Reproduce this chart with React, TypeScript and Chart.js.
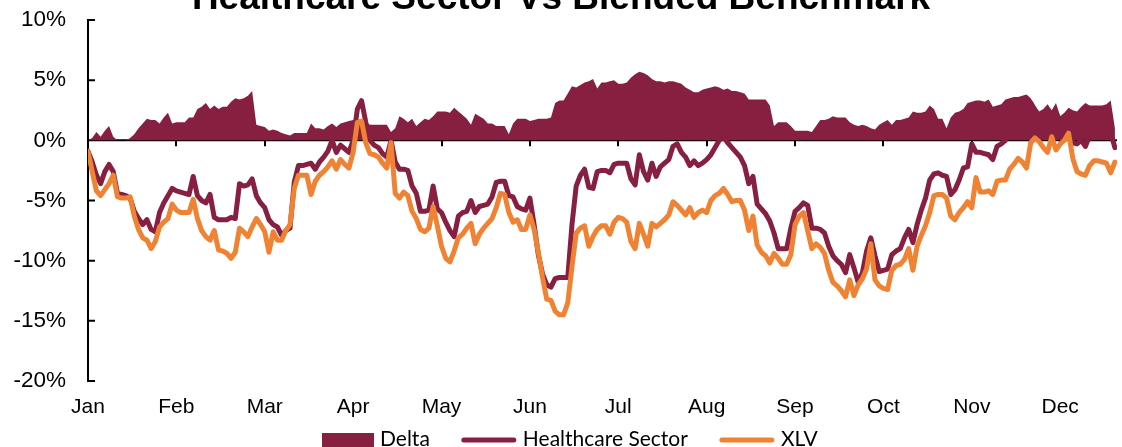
import React, { useEffect, useRef } from 'react';
import { Chart, registerables } from 'chart.js';

Chart.register(...registerables);

const chartTitle = 'Healthcare Sector Vs Blended Benchmark';
const monthLabels = ['Jan', 'Feb', 'Mar', 'Apr', 'May', 'Jun', 'Jul', 'Aug', 'Sep', 'Oct', 'Nov', 'Dec'];
const tradingDaysPerMonth = 21;
const yTickValues = [-20, -15, -10, -5, 0, 5, 10];

// Cumulative return (%), one row per month of trading days
const healthcareSector = [
  -0.9, -1.8, -2.9, -3.6, -2.6, -2.0, -2.6, -4.4, -4.5, -4.6, -4.8, -5.9, -6.5, -7.0, -6.6, -7.4, -7.6, -6.0, -5.2, -4.6, -4.0,
  -4.2, -4.3, -4.4, -4.5, -3.0, -4.6, -5.0, -5.2, -4.5, -6.4, -6.6, -6.6, -6.6, -6.4, -6.5, -3.6, -3.8, -3.7, -3.2, -4.6, -5.2,
  -5.6, -6.6, -7.0, -7.2, -7.9, -7.5, -7.3, -3.5, -2.1, -2.1, -2.0, -1.9, -2.4, -1.8, -1.4, -0.9, 0.0, -1.0, -0.4, -0.7, -1.0,
  0.0, 2.6, 3.3, 1.5, 0.0, -0.4, -0.6, -1.1, -1.4, 0.0, -1.8, -2.4, -2.4, -2.5, -3.8, -4.4, -5.9, -5.9, -5.8, -3.8, -5.7,
  -6.0, -6.8, -7.5, -8.0, -6.3, -6.0, -5.9, -5.0, -6.0, -5.5, -5.4, -5.3, -4.7, -3.5, -3.4, -3.4, -4.6, -4.7, -5.5, -5.7, -5.8,
  -4.8, -7.0, -9.5, -11.1, -12.0, -12.2, -11.5, -11.4, -11.4, -11.4, -7.0, -3.8, -2.9, -2.4, -3.9, -4.0, -2.6, -2.5, -2.5, -2.7, -2.0,
  -1.9, -1.9, -1.9, -3.2, -3.7, -1.2, -2.6, -3.3, -1.9, -3.0, -2.2, -1.9, -1.6, -0.5, -0.3, -1.0, -1.4, -2.1, -1.7, -2.1, -1.9,
  -1.6, -1.2, -0.6, 0.0, 0.3, -0.2, -0.6, -1.0, -1.4, -2.1, -3.6, -3.0, -5.3, -5.7, -6.1, -6.7, -7.7, -9.0, -9.0, -9.0, -7.3,
  -5.9, -5.6, -5.2, -5.4, -7.3, -7.3, -7.4, -7.7, -8.8, -9.6, -10.0, -10.3, -11.0, -9.5, -10.6, -11.8, -11.0, -9.2, -8.1, -9.6, -10.9,
  -10.8, -10.7, -9.5, -9.2, -9.0, -8.1, -7.4, -8.5, -7.0, -5.8, -4.8, -3.3, -2.8, -2.7, -2.9, -3.0, -4.5, -4.1, -3.3, -2.3, -2.2,
  -0.3, -1.0, -1.0, -1.1, -1.2, -1.6, -0.5, -0.3, 0.0, 1.1, 1.6, 2.1, 1.9, 1.5, 3.1, 2.5, 2.0, 2.0, 2.0, 2.1, 2.3,
  1.6, 1.9, 2.3, -0.2, -0.3, 0.0, -0.5, 0.4, 1.2, 1.2, 1.1, 1.1, 0.6, -0.6,
];

const xlvBenchmark = [
  -0.9, -2.6, -4.2, -4.6, -4.1, -3.6, -2.9, -4.7, -4.8, -4.8, -4.7, -6.3, -7.4, -8.1, -8.3, -9.0, -8.4, -7.2, -6.8, -6.5, -5.3,
  -5.8, -6.0, -6.0, -6.0, -4.9, -6.5, -7.5, -8.0, -8.3, -7.5, -9.1, -9.2, -9.4, -9.8, -9.3, -7.3, -7.6, -8.0, -7.2, -6.5, -7.0,
  -7.6, -9.3, -7.6, -8.3, -8.3, -7.5, -7.0, -4.0, -2.9, -2.9, -2.9, -4.5, -3.4, -2.9, -2.6, -2.2, -1.7, -2.4, -1.6, -2.0, -2.3,
  -1.0, 1.5, 1.6, -0.2, -1.1, -1.2, -1.4, -1.9, -2.3, -0.2, -4.4, -4.8, -4.3, -4.6, -5.9, -6.5, -7.4, -7.6, -7.3, -5.5, -7.1,
  -8.8, -9.8, -10.1, -9.2, -8.1, -7.8, -7.3, -6.9, -8.6, -7.8, -7.3, -6.9, -6.5, -5.6, -4.4, -4.5, -6.0, -6.8, -6.6, -7.4, -7.4,
  -6.2, -7.4, -9.3, -11.4, -13.2, -13.3, -14.2, -14.5, -14.5, -13.5, -10.5, -7.7, -7.3, -7.1, -8.8, -8.0, -7.4, -7.1, -7.1, -7.8, -6.8,
  -6.4, -6.5, -6.8, -8.4, -9.0, -6.9, -7.8, -8.8, -6.9, -7.2, -6.9, -6.6, -6.2, -5.1, -5.4, -5.8, -6.2, -5.6, -6.4, -6.0, -5.8,
  -6.0, -5.0, -4.6, -4.4, -4.0, -4.5, -5.1, -5.0, -5.0, -5.8, -7.5, -6.3, -8.7, -9.3, -9.6, -10.2, -9.4, -9.8, -10.3, -10.3, -9.5,
  -7.0, -6.3, -6.0, -7.5, -9.0, -8.6, -8.9, -9.4, -10.8, -11.8, -12.1, -12.5, -13.0, -11.6, -12.9, -12.0, -11.5, -10.7, -8.6, -11.6, -12.1,
  -12.3, -12.4, -10.8, -10.4, -10.3, -9.9, -9.0, -10.8, -8.8, -7.9, -7.1, -6.0, -4.6, -4.5, -4.5, -4.8, -6.3, -6.6, -6.0, -5.6, -5.1,
  -5.6, -3.1, -4.3, -4.3, -4.2, -4.5, -3.4, -3.3, -3.3, -2.4, -2.0, -1.5, -1.8, -2.3, -0.2, 0.2, -0.1, -0.6, -1.0, 0.3, -0.8,
  -0.3, 0.0, 0.6, -1.5, -2.6, -2.8, -2.9, -2.1, -1.7, -1.7, -1.8, -1.9, -2.7, -1.8,
];

const deltaSpread = [
  0.0, 0.2, 0.7, 0.3, 0.8, 1.2, 0.3, 0.0, 0.0, 0.0, 0.2, 0.5, 1.0, 1.4, 1.8, 1.7, 1.7, 1.4, 1.9, 2.3, 1.4,
  1.5, 1.5, 1.5, 1.9, 1.9, 2.6, 2.8, 3.1, 2.6, 2.9, 2.6, 2.8, 2.8, 3.2, 3.5, 3.4, 3.5, 3.7, 4.1, 1.3, 1.2,
  1.1, 0.8, 0.9, 0.8, 0.6, 0.5, 0.4, 0.6, 0.6, 0.6, 0.6, 1.4, 1.0, 1.0, 0.9, 1.2, 1.4, 1.1, 1.4, 1.5, 1.6,
  1.7, 1.8, 1.6, 1.5, 1.3, 1.3, 1.3, 1.3, 1.3, 0.7, 1.0, 2.0, 1.8, 1.5, 1.8, 1.2, 1.5, 1.8, 1.7, 2.0, 2.4,
  2.4, 2.4, 2.3, 2.7, 2.4, 2.1, 1.8, 1.3, 2.2, 2.0, 1.8, 1.4, 1.4, 1.2, 1.2, 1.2, 0.5, 1.4, 1.8, 1.8, 1.8,
  1.6, 1.7, 1.8, 1.8, 1.8, 1.9, 3.1, 3.3, 3.3, 3.9, 4.5, 4.4, 4.6, 4.8, 4.9, 5.1, 4.3, 4.8, 4.8, 4.9, 5.0,
  4.7, 4.7, 4.8, 5.2, 5.5, 5.7, 5.6, 5.4, 5.1, 4.9, 4.9, 4.8, 4.9, 4.9, 4.8, 4.7, 4.4, 4.2, 4.0, 4.0, 4.2,
  4.3, 4.4, 4.5, 4.4, 4.2, 4.3, 4.1, 4.1, 4.0, 3.9, 3.4, 3.4, 3.4, 3.4, 3.4, 2.9, 1.2, 1.5, 1.5, 1.5, 1.2,
  0.8, 0.8, 0.8, 0.8, 0.7, 1.2, 1.7, 1.7, 1.8, 2.0, 1.9, 1.9, 1.9, 1.5, 1.3, 1.2, 1.3, 1.2, 1.0, 0.9, 1.3,
  1.5, 1.7, 1.3, 1.7, 1.7, 1.8, 1.9, 2.4, 2.3, 2.3, 2.4, 2.9, 2.6, 1.8, 1.8, 1.0, 1.9, 2.3, 2.4, 2.6, 3.1,
  3.2, 3.3, 3.3, 3.2, 3.4, 2.8, 2.9, 3.0, 3.4, 3.5, 3.6, 3.6, 3.7, 3.8, 3.5, 2.9, 2.4, 2.6, 3.0, 2.5, 3.1,
  2.0, 2.3, 2.7, 2.5, 2.4, 2.8, 3.1, 2.9, 2.9, 2.9, 2.9, 3.0, 3.3, 1.0,
];

const MAROON = '#871F41';
const ORANGE = '#EF8333';
const AXIS_FONT = "'Liberation Sans', Arial, sans-serif";
const LEGEND_FONT = "Lato, 'Open Sans', sans-serif";

const toPoints = (values: number[]) => values.map((y, x) => ({ x, y }));

// Zero line, month tick marks below it, and inward ticks on the value axis
const axisMarks = {
  id: 'axisMarks',
  beforeDatasetsDraw(chart: any) {
    const { ctx, chartArea, scales } = chart;
    const y0 = scales.y.getPixelForValue(0);
    ctx.save();
    ctx.strokeStyle = '#000';
    ctx.lineWidth = 2;
    ctx.beginPath();
    ctx.moveTo(chartArea.left, y0);
    ctx.lineTo(chartArea.right, y0);
    monthLabels.forEach((_, k) => {
      const px = Math.round(scales.x.getPixelForValue(k * tradingDaysPerMonth));
      ctx.moveTo(px, y0);
      ctx.lineTo(px, y0 + 6);
    });
    yTickValues.forEach((v) => {
      const py = scales.y.getPixelForValue(v);
      ctx.moveTo(chartArea.left, py);
      ctx.lineTo(chartArea.left + 7, py);
    });
    ctx.stroke();
    ctx.restore();
  },
};

// Title across the top and a single-row legend along the bottom
const titleAndLegend = {
  id: 'titleAndLegend',
  afterDraw(chart: any) {
    const { ctx } = chart;
    ctx.save();
    ctx.fillStyle = '#000';
    ctx.font = `bold 37px ${AXIS_FONT}`;
    ctx.textAlign = 'center';
    ctx.textBaseline = 'alphabetic';
    ctx.fillText(chartTitle, chart.width / 2, 8.5);

    ctx.font = `21px ${LEGEND_FONT}`;
    ctx.textAlign = 'left';
    const cy = 440;
    let x = 322;
    chart.data.datasets.forEach((ds: any) => {
      if (ds.fill) {
        ctx.fillStyle = ds.backgroundColor;
        ctx.fillRect(x, cy - 7, 52, 16);
        x += 52;
      } else {
        ctx.strokeStyle = ds.borderColor;
        ctx.lineWidth = 5;
        ctx.lineCap = 'round';
        ctx.beginPath();
        ctx.moveTo(x + 3, cy);
        ctx.lineTo(x + 53, cy);
        ctx.stroke();
        x += 56;
      }
      x += 6;
      ctx.fillStyle = '#000';
      ctx.fillText(ds.label, x, 446);
      x += ctx.measureText(ds.label).width + 31;
    });
    ctx.restore();
  },
};

export default function App() {
  const canvasRef = useRef<HTMLCanvasElement>(null);

  useEffect(() => {
    const canvas = canvasRef.current;
    if (!canvas) return;
    const chart = new Chart(canvas, {
      type: 'line',
      data: {
        datasets: [
          {
            label: 'Delta',
            data: toPoints(deltaSpread),
            fill: 'origin',
            backgroundColor: MAROON,
            borderColor: MAROON,
            borderWidth: 0,
            pointRadius: 0,
            order: 3,
          },
          {
            label: 'Healthcare Sector',
            data: toPoints(healthcareSector),
            fill: false,
            borderColor: MAROON,
            backgroundColor: MAROON,
            borderWidth: 5,
            borderJoinStyle: 'round',
            borderCapStyle: 'round',
            pointRadius: 0,
            order: 2,
          },
          {
            label: 'XLV',
            data: toPoints(xlvBenchmark),
            fill: false,
            borderColor: ORANGE,
            backgroundColor: ORANGE,
            borderWidth: 5,
            borderJoinStyle: 'round',
            borderCapStyle: 'round',
            pointRadius: 0,
            order: 1,
          },
        ],
      },
      options: {
        animation: false,
        responsive: false,
        layout: { padding: { left: 0, right: 5, top: 20, bottom: 26 } },
        plugins: {
          legend: { display: false },
          title: { display: false },
          tooltip: { enabled: false },
        },
        scales: {
          x: {
            type: 'linear',
            min: 0,
            max: 244.5,
            position: 'bottom',
            border: { display: false },
            grid: { display: false, drawTicks: false },
            afterBuildTicks: (scale: any) => {
              scale.ticks = monthLabels.map((_, k) => ({ value: k * tradingDaysPerMonth }));
            },
            afterFit: (scale: any) => {
              scale.height = 40;
            },
            ticks: {
              autoSkip: false,
              maxRotation: 0,
              padding: 14,
              color: '#000',
              font: { family: AXIS_FONT, size: 21 },
              callback: (v: any) => monthLabels[Math.round(Number(v) / tradingDaysPerMonth)] ?? '',
            },
          },
          y: {
            min: -20,
            max: 10,
            border: { display: true, color: '#000', width: 2 },
            // invisible outer tick marks only set the gap between labels and axis
            grid: {
              display: true,
              drawOnChartArea: false,
              drawTicks: true,
              tickLength: 22,
              tickColor: 'rgba(0,0,0,0)',
            },
            afterBuildTicks: (scale: any) => {
              scale.ticks = yTickValues.map((value) => ({ value }));
            },
            afterFit: (scale: any) => {
              scale.width = 88;
            },
            ticks: {
              padding: 0,
              color: '#000',
              font: { family: AXIS_FONT, size: 22.5 },
              callback: (v: any) => `${v}%`,
            },
          },
        },
      },
      plugins: [axisMarks, titleAndLegend],
    });
    return () => chart.destroy();
  }, []);

  return (
    <div style={{ position: 'absolute', left: 0, top: 0, width: 1122, height: 447, background: '#fff' }}>
      <canvas ref={canvasRef} width={1122} height={447} style={{ display: 'block' }} />
    </div>
  );
}
